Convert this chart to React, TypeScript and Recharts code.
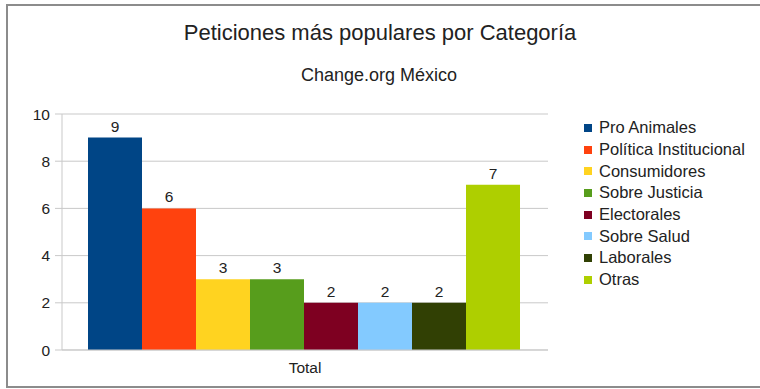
import { BarChart, Bar, XAxis, YAxis, CartesianGrid, LabelList } from 'recharts';

const categories = ['Total'];
const seriesNames = [
  'Pro Animales',
  'Política Institucional',
  'Consumidores',
  'Sobre Justicia',
  'Electorales',
  'Sobre Salud',
  'Laborales',
  'Otras',
];
const seriesValues = [9, 6, 3, 3, 2, 2, 2, 7];
const seriesColors = ['#004586', '#ff420e', '#ffd320', '#579d1c', '#7e0021', '#83caff', '#314004', '#aecf00'];
const yTicks = [0, 2, 4, 6, 8, 10];

const data = categories.map((name) => {
  const row: Record<string, string | number> = { name };
  seriesNames.forEach((s, i) => {
    row[s] = seriesValues[i];
  });
  return row;
});

const font = '"Liberation Sans", Arial, sans-serif';
const gridColor = '#c9c9c9';

// legend drawn outside the chart so it keeps the series order and takes no plot space
function LegendBox() {
  return (
    <div
      style={{
        position: 'absolute',
        left: 584,
        top: 117,
        fontFamily: font,
        fontSize: 16.5,
        color: '#222',
      }}
    >
      {seriesNames.map((s, i) => (
        <div key={s} style={{ display: 'flex', alignItems: 'center', height: 21.7 }}>
          <span style={{ width: 8, height: 8, background: seriesColors[i], marginRight: 7, display: 'inline-block' }} />
          <span>{s}</span>
        </div>
      ))}
    </div>
  );
}

export default function App() {
  return (
    <div style={{ position: 'absolute', left: 0, top: 0, width: 760, height: 389, background: '#fff' }}>
      <div
        style={{
          position: 'absolute',
          left: 6,
          top: 4,
          width: 770,
          height: 380,
          borderTop: '2px solid #8c8c8c',
          borderLeft: '2px solid #8c8c8c',
          borderBottom: '2px solid #8c8c8c',
        }}
      />
      <div
        style={{
          position: 'absolute',
          left: 0,
          top: 20,
          width: 760,
          textAlign: 'center',
          fontFamily: font,
          fontSize: 22,
          color: '#222',
          lineHeight: '26px',
        }}
      >
        Peticiones más populares por Categoría
      </div>
      <div
        style={{
          position: 'absolute',
          left: 0,
          top: 64,
          width: 758,
          textAlign: 'center',
          fontFamily: font,
          fontSize: 18,
          color: '#222',
          lineHeight: '22px',
        }}
      >
        Change.org México
      </div>
      <div style={{ position: 'absolute', left: 0, top: 0 }}>
        <BarChart
          width={760}
          height={389}
          data={data}
          margin={{ top: 114, right: 212, bottom: 9, left: 0 }}
          barCategoryGap="5.35%"
          barGap={0}
        >
          <CartesianGrid vertical={false} stroke={gridColor} />
          <XAxis
            dataKey="name"
            tickLine={false}
            tickSize={0}
            tickMargin={12}
            height={30}
            axisLine={{ stroke: gridColor }}
            tick={{ fill: '#222', fontSize: 15.5, fontFamily: font }}
          />
          <YAxis
            domain={[0, 10]}
            ticks={yTicks}
            width={62}
            tickSize={7}
            tickMargin={5}
            axisLine={{ stroke: gridColor }}
            tickLine={{ stroke: gridColor }}
            tick={{ fill: '#222', fontSize: 15.5, fontFamily: font }}
          />
          <YAxis
            yAxisId="right"
            orientation="right"
            domain={[0, 10]}
            width={0}
            tick={false}
            tickLine={false}
            axisLine={{ stroke: gridColor }}
          />
          {seriesNames.map((s, i) => (
            <Bar key={s} dataKey={s} fill={seriesColors[i]} isAnimationActive={false}>
              <LabelList
                dataKey={s}
                position="top"
                offset={6}
                style={{ fill: '#222', fontSize: 15.5, fontFamily: font }}
              />
            </Bar>
          ))}
        </BarChart>
      </div>
      <LegendBox />
    </div>
  );
}
